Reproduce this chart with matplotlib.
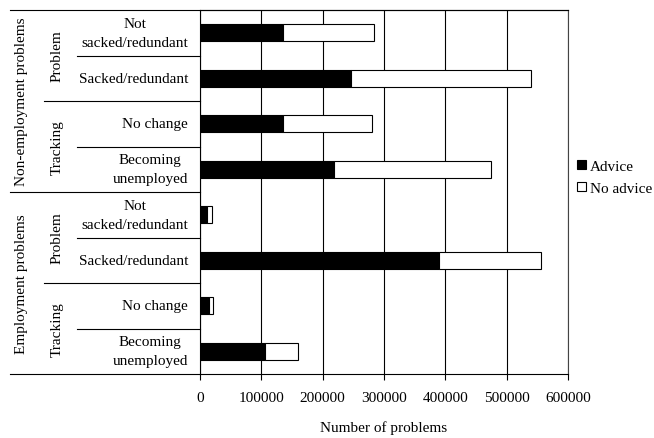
import matplotlib
matplotlib.use("Agg")
import matplotlib.pyplot as plt
from matplotlib.transforms import blended_transform_factory

plt.rcParams["font.family"] = ["Liberation Serif", "DejaVu Serif"]
plt.rcParams["font.size"] = 11

# Bars, top to bottom
groups = ["Non-employment problems", "Employment problems"]
subgroups = ["Problem", "Tracking"]
bar_labels = ["Not\nsacked/redundant", "Sacked/redundant",
              "No change", "Becoming\nunemployed",
              "Not\nsacked/redundant", "Sacked/redundant",
              "No change", "Becoming\nunemployed"]
advice = [135000, 246000, 135000, 219000, 11000, 390000, 15000, 106000]
no_advice = [148000, 294000, 146000, 255000, 8000, 166000, 7000, 54000]
x_ticks = [0, 100000, 200000, 300000, 400000, 500000, 600000]

fig = plt.figure(figsize=(6.54, 4.39), dpi=100)
ax = fig.add_axes([200 / 654, 1 - 375 / 439, 368 / 654, 364 / 439])

pos = list(range(len(advice)))
ax.barh(pos, advice, height=0.38, color="black", edgecolor="black",
        linewidth=0.8, label="Advice", zorder=3)
ax.barh(pos, no_advice, left=advice, height=0.38, color="white",
        edgecolor="black", linewidth=0.8, label="No advice", zorder=3)

ax.set_xlim(0, 600000)
ax.set_ylim(len(pos) - 0.5, -0.5)
ax.set_xticks(x_ticks)
ax.set_xticklabels([str(v) for v in x_ticks])
ax.tick_params(axis="x", direction="out", length=4, width=0.8, pad=8)
ax.set_yticks([])
ax.grid(axis="x", color="black", linewidth=0.8, zorder=0)
for s in ax.spines.values():
    s.set_linewidth(0.8)
ax.spines["right"].set_color("#444444")
ax.set_xlabel("Number of problems", labelpad=12)

# multi-level category labels
tr = blended_transform_factory(ax.transAxes, ax.transData)
px = lambda p: (p - 200) / 368.0

for i, lab in enumerate(bar_labels):
    ax.text(px(188), i, lab, transform=tr, ha="right", va="center",
            multialignment="center", linespacing=1.65)

for b in range(len(pos) + 1):
    y = b - 0.5
    if b % 4 == 0:
        x0 = px(10)
    elif b % 2 == 0:
        x0 = px(44)
    else:
        x0 = px(77)
    xe = 1.0 if b == 0 else 0.0
    ax.plot([x0, xe], [y, y], transform=tr, color="black",
            linewidth=0.8, clip_on=False)

for g in range(len(groups)):
    ax.text(px(22), g * 4 + 1.5, groups[g], transform=tr, rotation=90,
            ha="center", va="center")
    for k in range(len(subgroups)):
        ax.text(px(57), g * 4 + k * 2 + 0.5, subgroups[k], transform=tr,
                rotation=90, ha="center", va="center")

ax.legend(loc="center left", bbox_to_anchor=(1.0, 0.54), frameon=False,
          handlelength=0.55, handleheight=0.55, handletextpad=0.3,
          borderaxespad=0.4, borderpad=0.2, labelspacing=0.55)

fig.savefig("out.png", dpi=100)
